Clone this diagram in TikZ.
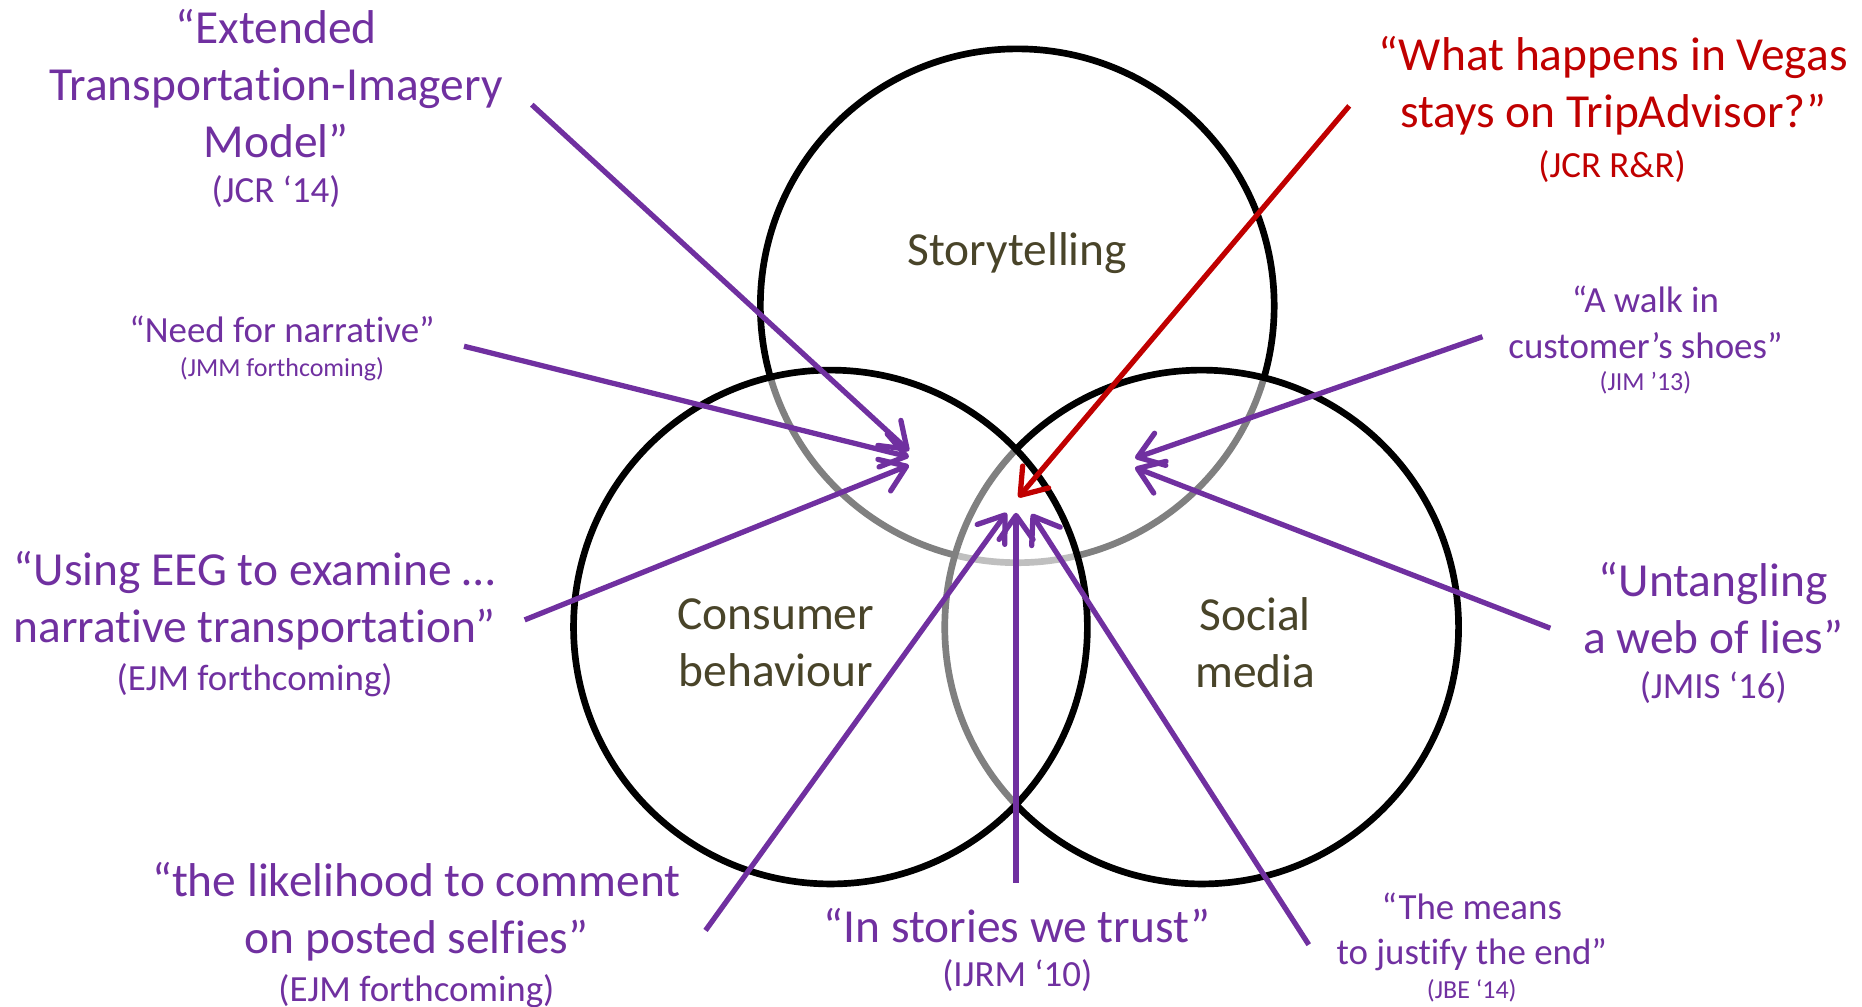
\documentclass[tikz,border=0pt]{standalone}
\usepackage{fontspec}
\setmainfont{Carlito}[Ligatures=NoCommon]
\usetikzlibrary{arrows.meta}

\definecolor{quote}{HTML}{7030A0}
\definecolor{vegas}{HTML}{C00000}
\definecolor{topic}{HTML}{494429}

\tikzset{
  venn/.style={circle, draw=black, line width=1.9pt, fill=white, fill opacity=0.5,
    minimum size=5.14cm, inner sep=0pt},
  topiclabel/.style={text=topic, align=center, inner sep=0pt,
    font=\fontsize{13.5}{16.2}\selectfont},
  bigquote/.style={text=quote, align=center, inner sep=0pt,
    font=\fontsize{13.5}{16.2}\selectfont},
  smallquote/.style={text=quote, align=center, inner sep=0pt,
    font=\fontsize{10.5}{12.9}\selectfont},
  bigref/.style={text=quote, inner sep=0pt, font=\fontsize{10.5}{12}\selectfont},
  smallref/.style={text=quote, inner sep=0pt, font=\fontsize{7.4}{9}\selectfont},
  link/.style={draw=quote, line width=1.5pt,
    -{Straight Barb[length=2.4mm,width=3.4mm,round]}},
}

\begin{document}
\begin{tikzpicture}[x=0.011898cm, y=-0.011898cm]
  \useasboundingbox (0,0) rectangle (1565,846);
  % the three circles, back to front
  \node[venn] (story) at (855,257) {};
  \node[venn] (social) at (1010,527) {};
  \node[venn] (consumer) at (698,527) {};
  \node[topiclabel] (story-lbl) at (855,213) {Storytelling};
  \node[topiclabel] (consumer-lbl) at (652,540) {Consumer\\behaviour};
  \node[topiclabel] (social-lbl) at (1055,540) {Social\\media};

  % quotes
  \node[bigquote] (etim) at (232,70) {“Extended\\Transportation-Imagery\\Model”};
  \node[bigref] (etim-ref) at (232,161) {(JCR ‘14)};
  \node[smallquote] (need) at (237,277) {“Need for narrative”};
  \node[smallref] (need-ref) at (237,310) {(JMM forthcoming)};
  \node[bigquote] (eeg) at (214,505) {“Using EEG to examine …\\narrative transportation”};
  \node[bigref] (eeg-ref) at (214,572) {(EJM forthcoming)};
  \node[bigquote] (selfie) at (350,766) {“the likelihood to comment\\on posted selfies”};
  \node[bigref] (selfie-ref) at (350,833) {(EJM forthcoming)};
  \node[bigquote] (trust) at (855,778) {“In stories we trust”};
  \node[bigref] (trust-ref) at (855,820) {(IJRM ‘10)};
  \node[smallquote] (means) at (1237,783) {“The means\\to justify the end”};
  \node[smallref] (means-ref) at (1237,833) {(JBE ‘14)};
  \node[bigquote] (lies) at (1440,511) {“Untangling\\a web of lies”};
  \node[bigref] (lies-ref) at (1440,578) {(JMIS ‘16)};
  \node[smallquote] (walk) at (1383,271) {“A walk in\\customer’s shoes”};
  \node[smallref] (walk-ref) at (1383,322) {(JIM ’13)};
  \node[bigquote, text=vegas] (vegas) at (1356,72) {“What happens in Vegas\\stays on TripAdvisor?”};
  \node[bigref, text=vegas] (vegas-ref) at (1355,140) {(JCR R\&R)};

  % arrow ends
  \coordinate (etim-tail) at (447,88);     \coordinate (etim-tip) at (764,379);
  \coordinate (need-tail) at (390,291);    \coordinate (need-tip) at (764,384);
  \coordinate (eeg-tail) at (441,521);     \coordinate (eeg-tip) at (764,391);
  \coordinate (selfie-tail) at (593,782);  \coordinate (selfie-tip) at (846,431);
  \coordinate (trust-tail) at (854,742);   \coordinate (trust-tip) at (854,431);
  \coordinate (means-tail) at (1100,794);  \coordinate (means-tip) at (867,432);
  \coordinate (walk-tail) at (1246,283);   \coordinate (walk-tip) at (954,385);
  \coordinate (lies-tail) at (1303,528);   \coordinate (lies-tip) at (954,393);
  \coordinate (vegas-tail) at (1134,89);   \coordinate (vegas-tip) at (856,418);

  \foreach \q in {etim,need,eeg,selfie,trust,means,walk,lies}
    \draw[link] (\q-tail) -- (\q-tip);
  \draw[link, draw=vegas] (vegas-tail) -- (vegas-tip);
\end{tikzpicture}
\end{document}
